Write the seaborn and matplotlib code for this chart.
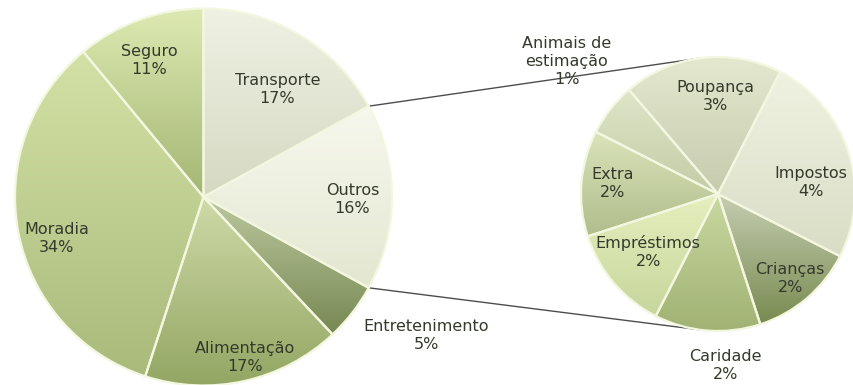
import numpy as np
import matplotlib
matplotlib.use("Agg")
import matplotlib.pyplot as plt
import seaborn as sns

# Budget shares (%) for the main pie, drawn clockwise from 12 o'clock
main_labels = ["Transporte", "Outros", "Entretenimento", "Alimentação", "Moradia", "Seguro"]
main_values = [17, 16, 5, 17, 34, 11]

# Breakdown of "Outros" (%) for the secondary pie, drawn counter-clockwise
sub_labels = ["Impostos", "Poupança", "Animais de\nestimação", "Extra",
              "Empréstimos", "Caridade", "Crianças"]
sub_values = [4, 3, 1, 2, 2, 2, 2]

# (top, bottom) gradient colours for each slice
main_shades = [("#eff1e3", "#d5d9c2"), ("#f7f8ee", "#e3e7d0"), ("#bcc8a0", "#778852"),
               ("#cfdaa8", "#93a663"), ("#d4e1a6", "#a9ba7b"), ("#dde9b2", "#a4b673")]
sub_shades = [("#eff2e1", "#d9ddc5"), ("#e4e8cf", "#c6cbad"), ("#dfe6c8", "#c3cba6"),
              ("#dae3ba", "#b1bd8c"), ("#e6efbe", "#c6d69c"), ("#c9d8a0", "#a1b274"),
              ("#c6ceb2", "#788a50")]

# label placement style: (radius fraction, angular nudge in degrees)
main_label_pos = [(0.69, -4), (0.79, -1), (1.39, 6), (0.88, 2), (0.81, 5), (0.78, 2)]
sub_label_pos = [(0.68, -11), (0.715, -5.5), (1.47, -3), (0.77, -1), (0.66, -1),
                 (1.25, 7), (0.81, 0)]

sns.set_theme(style="white")
plt.rcParams["font.family"] = ["DejaVu Sans"]
TEXT = "#343a2b"
EDGE = "#f3f7e0"

W, H = 854, 385
fig = plt.figure(figsize=(W / 100, H / 100), dpi=100)
ax = fig.add_axes([0, 0, 1, 1])

main_c, main_r = (203.5, H - 197), 188.5
sub_c, sub_r = (718.0, H - 194), 137.0


def gradient_pie(values, labels, center, radius, shades, label_pos, **kw):
    wedges, _ = ax.pie(values, center=center, radius=radius, frame=True,
                       wedgeprops=dict(facecolor="none", edgecolor=EDGE, linewidth=1.6),
                       **kw)
    cx, cy = center
    for w, (top, bot), lab, (f, dth) in zip(wedges, shades, labels, label_pos):
        w.set_zorder(3)
        t = np.radians(np.linspace(w.theta1, w.theta2, 200))
        ys = np.concatenate([[cy], cy + radius * np.sin(t)])
        xs = np.concatenate([[cx], cx + radius * np.cos(t)])
        cmap = sns.blend_palette([top, bot], as_cmap=True)
        grad = np.linspace(1, 0, 256).reshape(-1, 1)
        im = ax.imshow(grad, cmap=cmap, vmin=0, vmax=1, origin="lower",
                       extent=(xs.min(), xs.max(), ys.min(), ys.max()),
                       interpolation="bilinear", aspect="auto", zorder=2)
        im.set_clip_path(w)
        mid = np.radians((w.theta1 + w.theta2) / 2 + dth)
        ax.text(cx + f * radius * np.cos(mid), cy + f * radius * np.sin(mid),
                f"{lab}\n{values[labels.index(lab)]}%", ha="center", va="center",
                fontsize=11.5, color=TEXT, linespacing=1.25, zorder=5)
    return wedges


main_w = gradient_pie(main_values, main_labels, main_c, main_r, main_shades,
                      main_label_pos, startangle=90, counterclock=False)
sub_w = gradient_pie(sub_values, sub_labels, sub_c, sub_r, sub_shades,
                     sub_label_pos, startangle=-27, counterclock=True)

# connector lines: from the ends of the "Outros" wedge, tangent to the secondary pie
out = main_w[main_labels.index("Outros")]
for ang, side in ((out.theta2, 1), (out.theta1, -1)):
    a = np.radians(ang)
    p = np.array([main_c[0] + main_r * np.cos(a), main_c[1] + main_r * np.sin(a)])
    v = np.array(sub_c) - p
    d = np.hypot(*v)
    direction = np.arctan2(v[1], v[0]) + side * np.arcsin(sub_r / d)
    tp = np.array(sub_c) + sub_r * np.array([np.cos(direction + side * np.pi / 2),
                                             np.sin(direction + side * np.pi / 2)])
    ax.plot([p[0], tp[0]], [p[1], tp[1]], color="#4d4d4d", lw=1.0, zorder=1)

ax.set_xlim(0, W)
ax.set_ylim(0, H)
ax.set_aspect("equal")
ax.axis("off")
fig.savefig("out.png", dpi=100, facecolor="white")
